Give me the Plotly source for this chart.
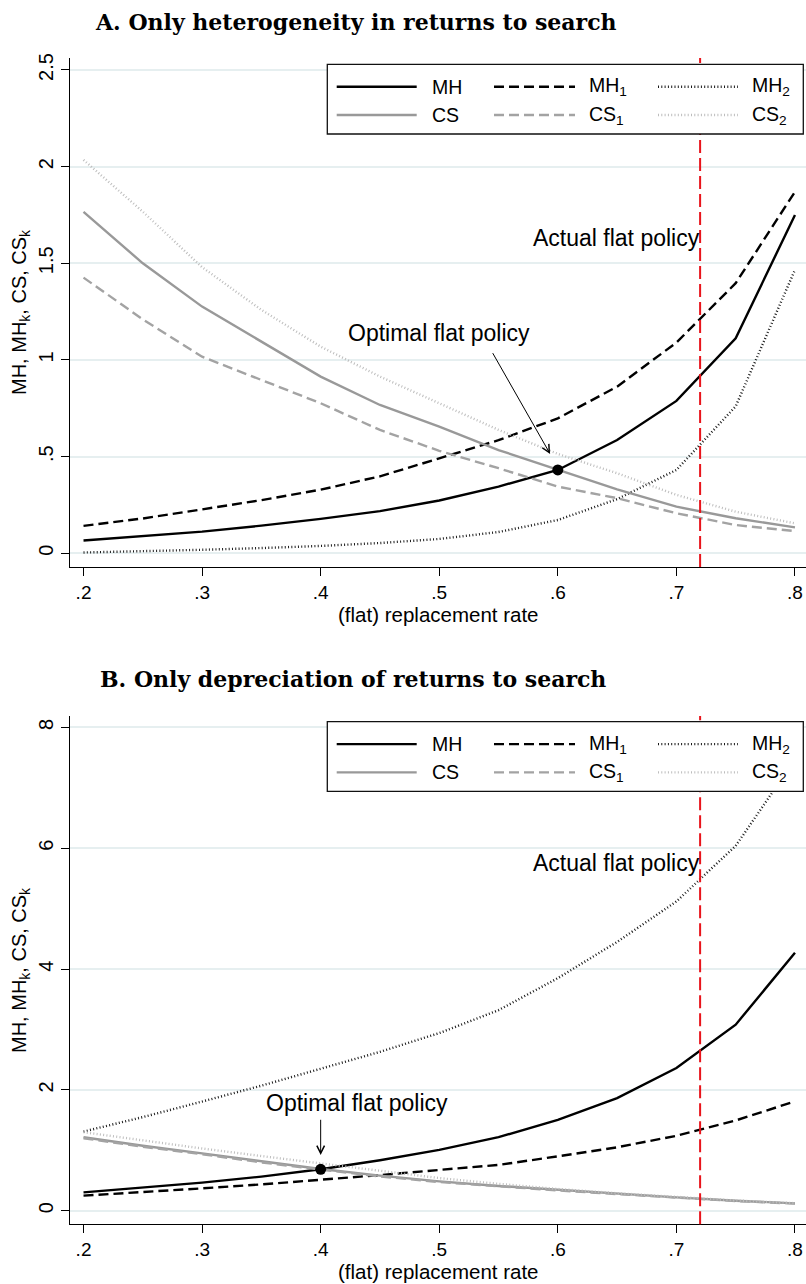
import plotly.graph_objects as go

# ---------------- data ----------------
x_rate = [0.20, 0.25, 0.30, 0.35, 0.40, 0.45, 0.50, 0.55, 0.60, 0.65, 0.70, 0.75, 0.80]
x_tick_vals = [0.2, 0.3, 0.4, 0.5, 0.6, 0.7, 0.8]
x_tick_text = [".2", ".3", ".4", ".5", ".6", ".7", ".8"]

# Panel A: only heterogeneity in returns to search
mh_a = [0.066, 0.088, 0.112, 0.143, 0.178, 0.218, 0.273, 0.345, 0.431, 0.586, 0.788, 1.112, 1.75]
mh1_a = [0.142, 0.180, 0.227, 0.275, 0.329, 0.398, 0.491, 0.585, 0.698, 0.862, 1.09, 1.397, 1.87]
mh2_a = [0.004, 0.010, 0.018, 0.027, 0.038, 0.053, 0.074, 0.110, 0.172, 0.280, 0.431, 0.760, 1.466]
cs_a = [1.766, 1.500, 1.276, 1.095, 0.914, 0.767, 0.655, 0.534, 0.431, 0.331, 0.241, 0.181, 0.134]
cs1_a = [1.426, 1.210, 1.017, 0.897, 0.776, 0.638, 0.530, 0.440, 0.345, 0.285, 0.207, 0.146, 0.115]
cs2_a = [2.035, 1.767, 1.480, 1.259, 1.069, 0.914, 0.776, 0.638, 0.514, 0.414, 0.302, 0.215, 0.155]
y_tick_vals_a = [0, 0.5, 1, 1.5, 2, 2.5]
y_tick_text_a = ["0", ".5", "1", "1.5", "2", "2.5"]

# Panel B: only depreciation of returns to search
mh_b = [0.304, 0.380, 0.465, 0.565, 0.686, 0.835, 1.006, 1.217, 1.505, 1.865, 2.363, 3.080, 4.270]
mh1_b = [0.249, 0.305, 0.370, 0.435, 0.509, 0.590, 0.675, 0.758, 0.900, 1.050, 1.240, 1.494, 1.810]
mh2_b = [1.310, 1.550, 1.807, 2.070, 2.350, 2.630, 2.940, 3.320, 3.850, 4.450, 5.120, 6.040, 7.470]
cs_b = [1.216, 1.075, 0.950, 0.815, 0.690, 0.580, 0.485, 0.410, 0.343, 0.280, 0.220, 0.165, 0.122]
cs1_b = [1.200, 1.060, 0.935, 0.800, 0.680, 0.568, 0.475, 0.400, 0.335, 0.275, 0.215, 0.160, 0.118]
cs2_b = [1.300, 1.160, 1.030, 0.905, 0.786, 0.660, 0.540, 0.445, 0.360, 0.290, 0.225, 0.170, 0.125]
y_tick_vals_b = [0, 2, 4, 6, 8]
y_tick_text_b = ["0", "2", "4", "6", "8"]

actual_rate = 0.72
optimal_rate_a = 0.60
optimal_rate_b = 0.40

series_names = ["MH", "MH<sub>1</sub>", "MH<sub>2</sub>", "CS", "CS<sub>1</sub>", "CS<sub>2</sub>"]
series_colors = ["#000000", "#000000", "#1a1a1a", "#999999", "#a3a3a3", "#bdbdbd"]
series_dash = ["solid", "10px,5px", "1px,2.3px", "solid", "10px,5px", "1px,2.3px"]
series_width = [2.4, 2.4, 2.4, 2.4, 2.4, 2.4]

W, H = 806, 1284
L = 70
FONT = "Liberation Sans, Arial, Helvetica, sans-serif"

def px_x(p):  # pixel -> paper x
    return (p - L) / (W - L)

def px_y(p):  # pixel -> paper y
    return 1 - p / H

fig = go.Figure()

panels = [
    ("x", "y", [mh_a, mh1_a, mh2_a, cs_a, cs1_a, cs2_a], optimal_rate_a, mh_a),
    ("x2", "y2", [mh_b, mh1_b, mh2_b, cs_b, cs1_b, cs2_b], optimal_rate_b, mh_b),
]
for xa, ya, data, opt, mh in panels:
    for name, vals, col, dash, wd in zip(series_names, data, series_colors, series_dash, series_width):
        fig.add_trace(go.Scatter(x=x_rate, y=vals, mode="lines", name=name,
                                 line=dict(color=col, dash=dash, width=wd),
                                 xaxis=xa, yaxis=ya, showlegend=False))
    i = x_rate.index(opt)
    fig.add_trace(go.Scatter(x=[opt], y=[mh[i]], mode="markers",
                             marker=dict(color="black", size=11),
                             xaxis=xa, yaxis=ya, showlegend=False))

axis_common = dict(showline=True, linecolor="black", linewidth=1.3, ticks="outside",
                   ticklen=8, tickwidth=1.3, tickcolor="black", zeroline=False,
                   automargin=False)
xfont = dict(family=FONT, size=19, color="black")
yfont = dict(family=FONT, size=20, color="black")

xrange = [0.1886, 0.8093]
fig.update_layout(
    width=W, height=H,
    margin=dict(l=L, r=0, t=0, b=0),
    paper_bgcolor="white", plot_bgcolor="white",
    font=dict(family=FONT, color="black"),
    xaxis=dict(domain=[0, 1], anchor="y", range=xrange, tickvals=x_tick_vals,
               ticktext=x_tick_text, showgrid=False, tickfont=xfont, **axis_common),
    yaxis=dict(domain=[px_y(567), px_y(58)], anchor="x", range=[-0.071, 2.562],
               tickvals=y_tick_vals_a, ticktext=y_tick_text_a, tickangle=-90, tickfont=yfont,
               showgrid=True, gridcolor="#e6eff0", gridwidth=1.5, **axis_common),
    xaxis2=dict(domain=[0, 1], anchor="y2", range=xrange, tickvals=x_tick_vals,
                ticktext=x_tick_text, showgrid=False, tickfont=xfont, **axis_common),
    yaxis2=dict(domain=[px_y(1224.3), px_y(716)], anchor="x2", range=[-0.225, 8.19],
                tickvals=y_tick_vals_b, ticktext=y_tick_text_b, tickangle=-90, tickfont=yfont,
                showgrid=True, gridcolor="#e6eff0", gridwidth=1.5, **axis_common),
)

shapes = []
annotations = []

# titles
annotations.append(dict(text="<b>A. Only heterogeneity in returns to search</b>", xref="paper", yref="paper",
                        x=px_x(356), y=px_y(22), showarrow=False, xanchor="center", yanchor="middle",
                        font=dict(family="DejaVu Serif, serif", size=22, color="black")))
annotations.append(dict(text="<b>B. Only depreciation of returns to search</b>", xref="paper", yref="paper",
                        x=px_x(352.7), y=px_y(679), showarrow=False, xanchor="center", yanchor="middle",
                        font=dict(family="DejaVu Serif, serif", size=22, color="black")))

for k, (xa, ya, top_box, yt_center, xt_center, ann_opt, arr, act_y) in enumerate([
    ("x", "y", 64.3, 312, 614, (0.50, 1.138), ((0.5935, 0.514), (0.5444, 1.043)), 1.63),
    ("x2", "y2", 721.7, 970, 1271.7, (0.4306, 1.78), ((0.40, 0.923), (0.40, 1.53)), 5.76),
]):
    # axis titles
    annotations.append(dict(text="MH, MH<sub>k</sub>, CS, CS<sub>k</sub>", xref="paper", yref="paper",
                            x=px_x(20), y=px_y(yt_center), textangle=-90, showarrow=False,
                            xanchor="center", yanchor="middle", font=dict(family=FONT, size=20)))
    annotations.append(dict(text="(flat) replacement rate", xref="paper", yref="paper",
                            x=px_x(438), y=px_y(xt_center), showarrow=False,
                            xanchor="center", yanchor="middle", font=dict(family=FONT, size=20.5)))
    # actual policy line
    shapes.append(dict(type="line", xref=xa, yref=ya + " domain", x0=actual_rate, x1=actual_rate,
                       y0=0, y1=1, line=dict(color="#e8141b", width=2, dash="13px,5px"), layer="above"))
    annotations.append(dict(text="Actual flat policy", xref=xa, yref=ya, x=actual_rate + 0.0016, y=act_y,
                            showarrow=False, xanchor="right", yanchor="middle",
                            font=dict(family=FONT, size=23)))
    # optimal policy
    annotations.append(dict(text="Optimal flat policy", xref=xa, yref=ya, x=ann_opt[0], y=ann_opt[1],
                            showarrow=False, xanchor="center", yanchor="middle",
                            font=dict(family=FONT, size=23)))
    annotations.append(dict(text="", xref=xa, yref=ya, x=arr[0][0], y=arr[0][1],
                            axref=xa, ayref=ya, ax=arr[1][0], ay=arr[1][1],
                            showarrow=True, arrowhead=5, arrowsize=1.5, arrowwidth=1,
                            arrowcolor="black", standoff=0))
    # legend box
    shapes.append(dict(type="rect", xref="paper", yref="paper", x0=px_x(327.3), x1=px_x(803.3),
                       y0=px_y(top_box + 69.7), y1=px_y(top_box), fillcolor="white",
                       line=dict(color="#111111", width=1.3), layer="above"))
    cols = [(336.7, 416.7, 430), (494, 575, 586.7), (658, 738, 750)]
    rows = [top_box + 22.4, top_box + 50.7]
    for j in range(6):
        r, c = divmod(j, 3)
        x0, x1, xl = cols[c]
        yy = rows[r]
        shapes.append(dict(type="line", xref="paper", yref="paper", x0=px_x(x0), x1=px_x(x1),
                           y0=px_y(yy), y1=px_y(yy), layer="above",
                           line=dict(color=series_colors[j], dash=series_dash[j], width=series_width[j])))
        annotations.append(dict(text=series_names[j], xref="paper", yref="paper", x=px_x(xl), y=px_y(yy),
                                showarrow=False, xanchor="left", yanchor="middle",
                                font=dict(family=FONT, size=19.5)))

fig.update_layout(shapes=shapes, annotations=annotations)
fig.write_html("out.html", config={"displayModeBar": False},
               post_script="document.body.style.margin='0';document.body.style.padding='0';")
